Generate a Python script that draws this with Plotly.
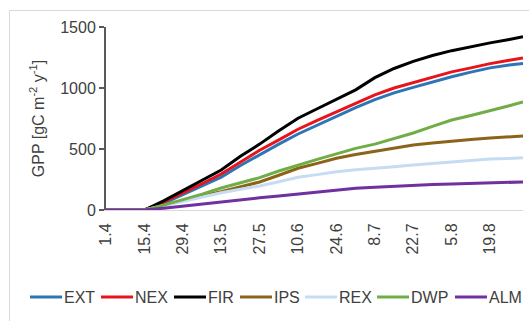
import plotly.graph_objects as go

# ---- data ----
dates = ["2019-04-01", "2019-04-08", "2019-04-15", "2019-04-22", "2019-04-29",
         "2019-05-06", "2019-05-13", "2019-05-20", "2019-05-27", "2019-06-03",
         "2019-06-10", "2019-06-17", "2019-06-24", "2019-07-01", "2019-07-08",
         "2019-07-15", "2019-07-22", "2019-07-29", "2019-08-05", "2019-08-12",
         "2019-08-19", "2019-08-26", "2019-08-31"]

EXT = [0, 0, 0, 55, 125, 195, 270, 365, 455, 540, 623, 695, 768, 840, 905,
       960, 1005, 1050, 1092, 1130, 1165, 1188, 1200]
NEX = [0, 0, 0, 65, 139, 215, 295, 395, 490, 575, 662, 735, 805, 877, 943,
       1000, 1044, 1088, 1132, 1165, 1200, 1228, 1246]
FIR = [0, 0, 0, 75, 158, 245, 328, 440, 540, 650, 752, 830, 905, 985, 1085,
       1160, 1218, 1266, 1306, 1340, 1370, 1398, 1420]
IPS = [0, 0, 0, 38, 78, 115, 150, 190, 230, 285, 342, 382, 424, 455, 480,
       510, 533, 550, 566, 578, 590, 600, 607]
REX = [0, 0, 0, 35, 70, 105, 142, 170, 197, 232, 268, 290, 314, 330, 340,
       355, 369, 382, 394, 406, 418, 423, 428]
DWP = [0, 0, 0, 40, 82, 130, 180, 225, 265, 320, 369, 415, 460, 505, 540,
       585, 631, 685, 738, 775, 812, 855, 886]
ALM = [0, 0, 0, 15, 33, 50, 68, 85, 100, 115, 131, 150, 168, 178, 186,
       195, 205, 210, 213, 217, 221, 226, 230]

series_names = ["EXT", "NEX", "FIR", "IPS", "REX", "DWP", "ALM"]
series_values = [EXT, NEX, FIR, IPS, REX, DWP, ALM]
series_colors = ["#2e75b6", "#e8141c", "#000000", "#8b6419", "#c5dcf2", "#70ad47", "#7030a0"]

tick_dates = ["2019-04-01", "2019-04-15", "2019-04-29", "2019-05-13", "2019-05-27",
              "2019-06-10", "2019-06-24", "2019-07-08", "2019-07-22", "2019-08-05",
              "2019-08-19"]
tick_labels = ["1.4", "15.4", "29.4", "13.5", "27.5", "10.6", "24.6", "8.7",
               "22.7", "5.8", "19.8"]

y_ticks = [0, 500, 1000, 1500]

# ---- layout constants ----
W, H = 529, 321
L, R, T, B = 106, 6, 27, 111
PW, PH = W - L - R, H - T - B
TEXT = "#404040"
FONT = "Liberation Sans, Arial, sans-serif"


def px_x(p):
    return (p - L) / PW


def px_y(p):
    return (H - B - p) / PH


fig = go.Figure()
for name, vals, col in zip(series_names, series_values, series_colors):
    fig.add_trace(go.Scatter(x=dates, y=vals, mode="lines", name=name,
                             line=dict(color=col, width=3), showlegend=False))

# custom legend (compact like the reference)
legend_line_start = [30, 101, 174, 240, 305, 377, 455]
shapes = []
annotations = []
ly = px_y(297)
for name, col, lx in zip(series_names, series_colors, legend_line_start):
    shapes.append(dict(type="line", xref="paper", yref="paper",
                       x0=px_x(lx), x1=px_x(lx + 32), y0=ly, y1=ly,
                       line=dict(color=col, width=3)))
    annotations.append(dict(xref="paper", yref="paper", x=px_x(lx + 32), y=ly,
                            text=name, showarrow=False, xanchor="left",
                            yanchor="middle", font=dict(size=16, color=TEXT)))

# chart border
shapes.append(dict(type="rect", xref="paper", yref="paper",
                   x0=px_x(9.5), x1=px_x(560), y0=px_y(10.5), y1=px_y(340),
                   line=dict(color="#d9d9d9", width=1), layer="above"))

fig.update_layout(
    width=W, height=H,
    margin=dict(l=L, r=R, t=T, b=B, autoexpand=False),
    paper_bgcolor="white", plot_bgcolor="white",
    font=dict(family=FONT, size=16, color=TEXT),
    shapes=shapes, annotations=annotations,
    xaxis=dict(range=[dates[0], dates[-1]], tickvals=tick_dates, ticktext=tick_labels,
               tickangle=-90, showgrid=False, zeroline=False, automargin=False,
               showline=True, linecolor="#d9d9d9", linewidth=1,
               ticks="outside", ticklen=6, tickcolor="rgba(0,0,0,0)",
               tickfont=dict(size=16, color=TEXT)),
    yaxis=dict(range=[0, 1500], tickvals=y_ticks, showgrid=False, zeroline=False,
               automargin=False,
               showline=True, linecolor="#595959", linewidth=2,
               ticks="outside", ticklen=5, tickcolor="#595959", tickwidth=2,
               tickfont=dict(size=16, color=TEXT),
               title=dict(text="GPP [gC m<sup>-2</sup> y<sup>-1</sup>]", standoff=12,
                          font=dict(size=16, color=TEXT))),
)

fig.write_html("out.html", config={"displayModeBar": False},
               post_script="document.body.style.margin='0';document.body.style.overflow='hidden';")
